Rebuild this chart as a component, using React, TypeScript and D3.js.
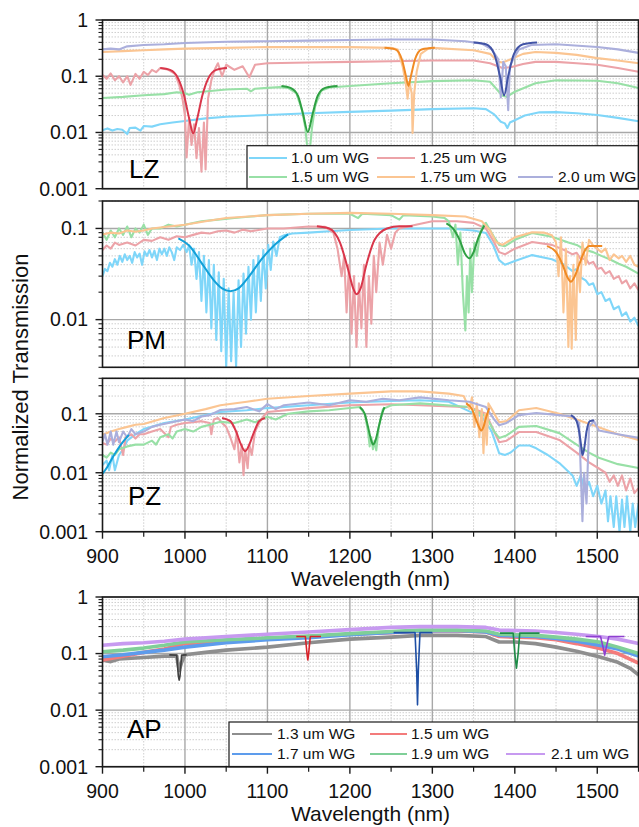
import React from "react";
import * as d3 from "d3";

type Pt = [number, number];

// ---------- shared axis / labels ----------
const xMajorTicks = [900, 1000, 1100, 1200, 1300, 1400, 1500];
const xMinorTicks = [950, 1050, 1150, 1250, 1350, 1450, 1550];
const panelNames = ["LZ", "PM", "PZ", "AP"];
const legendTopLabels = ["1.0 um WG", "1.25 um WG", "1.5 um WG", "1.75 um WG", "2.0 um WG"];
const legendAPLabels = ["1.3 um WG", "1.5 um WG", "1.7 um WG", "1.9 um WG", "2.1 um WG"];
const yTitle = "Normalized Transmission";
const xTitle = "Wavelength (nm)";

// ---------- LZ ----------
const lz10Raw: Pt[] = [[900,0.011],[906,0.0118],[912,0.0108],[918,0.0115],[924,0.0112],[930,0.0094],[933,0.012],[940,0.0122],[946,0.0108],[950,0.013],[960,0.0127],[970,0.014],[985,0.015],[1000,0.016],[1025,0.0178],[1050,0.019],[1100,0.0205],[1150,0.022],[1200,0.0232],[1250,0.0245],[1300,0.026],[1350,0.027],[1365,0.026],[1375,0.021],[1383,0.0155],[1388,0.0145],[1391,0.012],[1394,0.015],[1400,0.0165],[1412,0.02],[1430,0.0228],[1450,0.023],[1475,0.022],[1500,0.0205],[1525,0.0182],[1550,0.0158]];
const lz125Raw: Pt[] = [[900,0.105],[905,0.09],[910,0.112],[915,0.085],[920,0.1],[925,0.078],[930,0.1],[934,0.07],[940,0.11],[945,0.09],[950,0.12],[955,0.105],[960,0.13],[965,0.118],[970,0.14],[980,0.13],[988,0.11],[993,0.07],[997,0.04],[1000,0.02],[1002,0.0036],[1005,0.018],[1008,0.006],[1011,0.014],[1014,0.0035],[1017,0.012],[1020,0.002],[1023,0.015],[1025,0.0022],[1028,0.04],[1032,0.085],[1036,0.13],[1040,0.17],[1045,0.1],[1050,0.16],[1060,0.13],[1070,0.15],[1078,0.096],[1085,0.16],[1100,0.17],[1150,0.175],[1200,0.18],[1250,0.185],[1300,0.19],[1350,0.19],[1370,0.17],[1385,0.14],[1395,0.145],[1410,0.165],[1425,0.18],[1450,0.18],[1475,0.17],[1500,0.16],[1525,0.14],[1550,0.12]];
const lz125Fit: Pt[] = [[970,0.14],[982,0.13],[992,0.09],[999,0.045],[1005,0.018],[1010,0.0097],[1015,0.018],[1021,0.045],[1028,0.09],[1038,0.13],[1051,0.14]];
const lz15Raw: Pt[] = [[900,0.041],[925,0.043],[950,0.046],[975,0.048],[990,0.052],[1000,0.05],[1005,0.047],[1015,0.052],[1050,0.058],[1075,0.06],[1080,0.054],[1085,0.06],[1100,0.062],[1115,0.064],[1125,0.062],[1135,0.05],[1142,0.025],[1146,0.012],[1148,0.006],[1150,0.004],[1152,0.006],[1154,0.012],[1158,0.03],[1165,0.055],[1175,0.063],[1200,0.067],[1250,0.075],[1300,0.082],[1350,0.085],[1370,0.08],[1385,0.045],[1390,0.043],[1400,0.053],[1425,0.075],[1450,0.085],[1500,0.083],[1525,0.075],[1550,0.062]];
const lz15Fit: Pt[] = [[1117,0.067],[1128,0.062],[1137,0.045],[1143,0.022],[1149,0.0102],[1155,0.022],[1161,0.045],[1170,0.062],[1185,0.067]];
const lz175Raw: Pt[] = [[900,0.27],[925,0.28],[950,0.29],[975,0.3],[1000,0.31],[1050,0.32],[1100,0.33],[1150,0.33],[1200,0.33],[1250,0.32],[1258,0.3],[1264,0.15],[1268,0.07],[1270,0.04],[1272,0.08],[1275,0.05],[1276,0.0098],[1278,0.05],[1281,0.12],[1286,0.25],[1295,0.31],[1300,0.32],[1350,0.29],[1370,0.25],[1380,0.18],[1385,0.175],[1395,0.2],[1410,0.25],[1425,0.27],[1450,0.26],[1475,0.24],[1500,0.21],[1525,0.19],[1550,0.17]];
const lz175Fit: Pt[] = [[1242,0.32],[1255,0.3],[1263,0.2],[1268,0.1],[1271,0.067],[1274,0.1],[1279,0.2],[1287,0.3],[1303,0.32]];
const lz20Raw: Pt[] = [[900,0.3],[910,0.31],[920,0.3],[930,0.34],[950,0.36],[975,0.37],[1000,0.39],[1050,0.41],[1100,0.42],[1150,0.43],[1200,0.44],[1250,0.45],[1300,0.45],[1340,0.42],[1360,0.38],[1372,0.3],[1380,0.2],[1383,0.042],[1386,0.18],[1389,0.15],[1392,0.025],[1394,0.15],[1398,0.2],[1405,0.3],[1420,0.36],[1450,0.37],[1500,0.33],[1525,0.3],[1550,0.26]];
const lz20Fit: Pt[] = [[1350,0.4],[1365,0.37],[1375,0.25],[1382,0.1],[1387,0.046],[1392,0.1],[1399,0.25],[1410,0.37],[1427,0.4]];

// ---------- PM ----------
const pm10Raw: Pt[] = [[900,0.03],[903,0.036],[906,0.034],[909,0.042],[912,0.038],[915,0.046],[918,0.04],[921,0.05],[924,0.043],[927,0.052],[930,0.045],[933,0.05],[936,0.042],[939,0.055],[942,0.048],[945,0.053],[948,0.04],[951,0.056],[954,0.05],[957,0.058],[960,0.048],[963,0.057],[966,0.045],[969,0.06],[972,0.052],[975,0.06],[978,0.05],[981,0.062],[984,0.055],[987,0.045],[990,0.062],[994,0.058],[998,0.066],[1002,0.055],[1005,0.065],[1008,0.04],[1011,0.06],[1014,0.028],[1017,0.055],[1020,0.016],[1023,0.05],[1026,0.012],[1029,0.045],[1032,0.008],[1035,0.04],[1038,0.006],[1041,0.033],[1044,0.0045],[1047,0.028],[1050,0.003],[1053,0.022],[1056,0.0035],[1059,0.02],[1062,0.003],[1065,0.027],[1068,0.005],[1071,0.032],[1074,0.007],[1077,0.038],[1080,0.01],[1083,0.045],[1086,0.012],[1089,0.05],[1092,0.016],[1095,0.058],[1098,0.022],[1101,0.066],[1104,0.035],[1107,0.072],[1111,0.05],[1115,0.08],[1120,0.084],[1130,0.088],[1150,0.09],[1175,0.093],[1200,0.096],[1250,0.1],[1285,0.1],[1320,0.1],[1350,0.095],[1365,0.089],[1374,0.065],[1381,0.045],[1388,0.04],[1400,0.044],[1421,0.051],[1445,0.046],[1460,0.04],[1470,0.034],[1475,0.036],[1480,0.029],[1486,0.027],[1490,0.024],[1495,0.025],[1500,0.019],[1505,0.02],[1510,0.016],[1515,0.017],[1520,0.013],[1526,0.014],[1530,0.011],[1535,0.012],[1540,0.0095],[1545,0.0105],[1550,0.0085]];
const pm10Fit: Pt[] = [[992,0.078],[1005,0.065],[1020,0.042],[1035,0.027],[1045,0.022],[1055,0.0205],[1065,0.022],[1078,0.03],[1092,0.045],[1108,0.065],[1125,0.086]];
const pm125Raw: Pt[] = [[900,0.058],[905,0.065],[910,0.06],[915,0.07],[920,0.066],[930,0.07],[940,0.065],[950,0.075],[960,0.073],[970,0.08],[980,0.075],[990,0.082],[1000,0.08],[1010,0.085],[1020,0.09],[1030,0.088],[1040,0.093],[1050,0.095],[1060,0.09],[1070,0.097],[1080,0.093],[1100,0.1],[1120,0.1],[1150,0.105],[1170,0.104],[1180,0.09],[1185,0.06],[1190,0.03],[1193,0.05],[1196,0.012],[1199,0.04],[1202,0.007],[1205,0.03],[1208,0.005],[1211,0.025],[1214,0.008],[1217,0.04],[1220,0.005],[1223,0.03],[1226,0.009],[1229,0.05],[1232,0.02],[1236,0.07],[1240,0.04],[1245,0.085],[1250,0.06],[1255,0.09],[1260,0.1],[1280,0.11],[1300,0.12],[1330,0.12],[1350,0.115],[1365,0.1],[1375,0.07],[1381,0.055],[1388,0.052],[1400,0.06],[1421,0.071],[1445,0.066],[1460,0.058],[1470,0.052],[1475,0.054],[1480,0.046],[1486,0.047],[1490,0.041],[1495,0.043],[1500,0.036],[1505,0.037],[1510,0.032],[1515,0.034],[1520,0.028],[1526,0.03],[1530,0.025],[1535,0.027],[1540,0.022],[1545,0.025],[1550,0.021]];
const pm125Fit: Pt[] = [[1160,0.106],[1175,0.1],[1188,0.07],[1198,0.035],[1204,0.022],[1208,0.019],[1213,0.022],[1220,0.04],[1230,0.075],[1245,0.1],[1260,0.106],[1276,0.106]];
const pm15Raw: Pt[] = [[900,0.09],[905,0.075],[910,0.095],[915,0.08],[920,0.1],[925,0.085],[930,0.105],[935,0.08],[940,0.1],[945,0.09],[950,0.11],[955,0.085],[960,0.1],[970,0.1],[980,0.11],[990,0.105],[1000,0.11],[1020,0.12],[1040,0.125],[1060,0.13],[1080,0.135],[1100,0.14],[1150,0.145],[1200,0.145],[1210,0.13],[1215,0.145],[1250,0.14],[1260,0.125],[1265,0.14],[1300,0.135],[1315,0.13],[1320,0.12],[1325,0.08],[1328,0.11],[1331,0.04],[1334,0.09],[1337,0.02],[1340,0.0076],[1342,0.03],[1344,0.012],[1346,0.06],[1348,0.02],[1351,0.07],[1354,0.05],[1358,0.09],[1362,0.11],[1365,0.115],[1375,0.08],[1381,0.066],[1388,0.064],[1400,0.075],[1421,0.089],[1445,0.081],[1465,0.07],[1475,0.066],[1486,0.058],[1495,0.055],[1505,0.05],[1515,0.046],[1526,0.041],[1535,0.038],[1550,0.032]];
const pm15Fit: Pt[] = [[1317,0.114],[1325,0.1],[1333,0.075],[1340,0.052],[1345,0.047],[1350,0.055],[1356,0.08],[1363,0.108]];
const pm175Raw: Pt[] = [[900,0.086],[910,0.09],[920,0.088],[930,0.095],[940,0.092],[950,0.095],[960,0.1],[980,0.105],[1000,0.11],[1025,0.12],[1050,0.13],[1100,0.14],[1150,0.145],[1200,0.148],[1250,0.145],[1300,0.14],[1340,0.135],[1360,0.12],[1370,0.095],[1377,0.071],[1385,0.066],[1400,0.08],[1421,0.091],[1435,0.09],[1445,0.084],[1450,0.07],[1453,0.03],[1456,0.08],[1459,0.012],[1462,0.06],[1465,0.005],[1467,0.03],[1469,0.0048],[1471,0.04],[1474,0.006],[1476,0.05],[1479,0.02],[1482,0.07],[1486,0.04],[1490,0.075],[1495,0.065],[1505,0.055],[1510,0.06],[1515,0.045],[1520,0.052],[1526,0.047],[1530,0.05],[1535,0.043],[1540,0.05],[1545,0.04],[1550,0.038]];
const pm175Fit: Pt[] = [[1439,0.064],[1450,0.055],[1458,0.04],[1464,0.029],[1468,0.026],[1472,0.029],[1478,0.04],[1484,0.055],[1490,0.064],[1506,0.064]];

// ---------- PZ ----------
const pz10Raw: Pt[] = [[900,0.0135],[905,0.016],[908,0.011],[912,0.02],[915,0.011],[920,0.02],[925,0.025],[930,0.035],[940,0.045],[950,0.055],[975,0.07],[1000,0.08],[1025,0.095],[1043,0.107],[1075,0.115],[1100,0.125],[1150,0.14],[1200,0.155],[1250,0.165],[1285,0.17],[1320,0.16],[1345,0.11],[1360,0.09],[1372,0.05],[1381,0.0215],[1388,0.02],[1395,0.022],[1405,0.029],[1418,0.029],[1426,0.026],[1440,0.02],[1454,0.0146],[1470,0.009],[1475,0.006],[1480,0.009],[1485,0.005],[1490,0.007],[1495,0.004],[1500,0.006],[1505,0.003],[1510,0.005],[1513,0.0015],[1516,0.004],[1520,0.0012],[1523,0.004],[1527,0.001],[1530,0.0035],[1533,0.0012],[1536,0.004],[1540,0.001],[1543,0.003],[1546,0.0012],[1550,0.003]];
const pz10Fit: Pt[] = [[900,0.0096],[905,0.012],[910,0.016],[915,0.021],[920,0.027],[926,0.035],[932,0.044]];
const pz125Raw: Pt[] = [[900,0.032],[905,0.03],[910,0.038],[915,0.034],[920,0.04],[925,0.02],[928,0.04],[935,0.045],[940,0.038],[945,0.045],[950,0.045],[960,0.05],[970,0.055],[980,0.04],[983,0.06],[990,0.065],[1000,0.07],[1010,0.072],[1020,0.075],[1030,0.07],[1032,0.045],[1035,0.08],[1040,0.085],[1045,0.07],[1050,0.06],[1055,0.04],[1060,0.025],[1063,0.05],[1066,0.015],[1069,0.03],[1071,0.0091],[1073,0.025],[1076,0.012],[1078,0.03],[1081,0.02],[1085,0.05],[1090,0.07],[1095,0.09],[1100,0.107],[1150,0.125],[1200,0.14],[1250,0.145],[1285,0.14],[1345,0.13],[1365,0.1],[1375,0.05],[1381,0.033],[1390,0.035],[1405,0.049],[1426,0.049],[1454,0.036],[1475,0.022],[1490,0.015],[1502,0.0118],[1510,0.01],[1515,0.007],[1520,0.009],[1525,0.006],[1530,0.009],[1535,0.005],[1540,0.008],[1545,0.0045],[1550,0.0055]];
const pz125Fit: Pt[] = [[1045,0.085],[1055,0.075],[1062,0.05],[1068,0.03],[1073,0.0232],[1078,0.03],[1084,0.05],[1090,0.075],[1097,0.085]];
const pz15Raw: Pt[] = [[900,0.02],[905,0.018],[910,0.022],[915,0.02],[920,0.025],[930,0.028],[940,0.03],[950,0.03],[960,0.035],[965,0.03],[970,0.04],[980,0.045],[985,0.038],[990,0.05],[1000,0.055],[1010,0.05],[1020,0.06],[1030,0.065],[1043,0.073],[1060,0.07],[1075,0.08],[1085,0.072],[1100,0.089],[1110,0.08],[1125,0.1],[1150,0.11],[1175,0.115],[1200,0.125],[1212,0.13],[1218,0.1],[1222,0.05],[1224,0.028],[1226,0.04],[1228,0.025],[1230,0.035],[1232,0.024],[1235,0.06],[1240,0.12],[1250,0.14],[1285,0.15],[1345,0.13],[1365,0.09],[1375,0.05],[1381,0.039],[1390,0.043],[1405,0.06],[1426,0.062],[1454,0.047],[1475,0.03],[1490,0.022],[1502,0.018],[1525,0.014],[1550,0.012]];
const pz15Fit: Pt[] = [[1212,0.13],[1218,0.1],[1222,0.06],[1226,0.035],[1228,0.03],[1231,0.035],[1235,0.06],[1239,0.1],[1242,0.13]];
const pz175Raw: Pt[] = [[900,0.044],[910,0.05],[920,0.055],[930,0.06],[940,0.065],[950,0.067],[975,0.085],[1000,0.1],[1025,0.12],[1043,0.14],[1075,0.16],[1100,0.18],[1150,0.2],[1200,0.22],[1250,0.24],[1285,0.24],[1320,0.22],[1338,0.2],[1345,0.12],[1348,0.19],[1351,0.06],[1354,0.15],[1357,0.04],[1360,0.12],[1362,0.0215],[1364,0.1],[1366,0.03],[1368,0.15],[1372,0.12],[1381,0.072],[1390,0.075],[1405,0.115],[1426,0.125],[1454,0.1],[1475,0.08],[1502,0.059],[1525,0.045],[1550,0.036]];
const pz175Fit: Pt[] = [[1341,0.15],[1348,0.12],[1353,0.08],[1357,0.058],[1359,0.052],[1362,0.06],[1365,0.085],[1369,0.125]];
const pz20Raw: Pt[] = [[900,0.034],[903,0.045],[906,0.03],[910,0.05],[913,0.03],[917,0.05],[920,0.033],[925,0.05],[930,0.04],[935,0.055],[940,0.045],[950,0.05],[960,0.06],[970,0.065],[980,0.07],[990,0.075],[1000,0.08],[1010,0.075],[1020,0.09],[1030,0.095],[1043,0.116],[1060,0.12],[1075,0.13],[1090,0.11],[1100,0.146],[1110,0.12],[1120,0.14],[1150,0.155],[1175,0.14],[1200,0.17],[1220,0.16],[1240,0.18],[1260,0.17],[1285,0.19],[1320,0.17],[1345,0.16],[1365,0.13],[1375,0.08],[1381,0.064],[1390,0.07],[1405,0.095],[1426,0.103],[1454,0.095],[1470,0.09],[1478,0.07],[1480,0.01],[1482,0.0015],[1484,0.01],[1487,0.003],[1490,0.06],[1496,0.075],[1502,0.052],[1525,0.045],[1550,0.039]];
const pz20Fit: Pt[] = [[1468,0.095],[1474,0.08],[1478,0.05],[1481,0.025],[1482,0.02],[1484,0.025],[1487,0.05],[1491,0.075],[1496,0.078]];

// ---------- AP ----------
const ap13Raw: Pt[] = [[900,0.077],[910,0.072],[920,0.08],[930,0.082],[950,0.085],[975,0.09],[990,0.09],[993,0.05],[996,0.07],[1000,0.095],[1025,0.105],[1050,0.115],[1100,0.13],[1150,0.155],[1200,0.18],[1250,0.195],[1285,0.21],[1330,0.21],[1365,0.2],[1381,0.16],[1400,0.16],[1425,0.15],[1450,0.13],[1475,0.11],[1502,0.088],[1525,0.07],[1540,0.055],[1550,0.042]];
const ap13Fit: Pt[] = [[981,0.095],[990,0.094],[992,0.04],[993,0.034],[994,0.04],[996,0.094],[1002,0.095]];
const ap15Raw: Pt[] = [[900,0.077],[925,0.09],[950,0.105],[975,0.12],[1000,0.15],[1050,0.165],[1100,0.185],[1150,0.2],[1200,0.22],[1250,0.235],[1285,0.25],[1330,0.25],[1365,0.24],[1381,0.2],[1425,0.19],[1450,0.175],[1475,0.15],[1502,0.124],[1525,0.1],[1550,0.068]];
const ap15Fit: Pt[] = [[1135,0.2],[1146,0.2],[1148,0.1],[1149,0.077],[1150,0.1],[1152,0.2],[1165,0.2]];
const ap17Raw: Pt[] = [[900,0.088],[925,0.095],[950,0.105],[975,0.115],[1000,0.13],[1050,0.155],[1100,0.175],[1150,0.19],[1200,0.215],[1250,0.235],[1285,0.25],[1330,0.255],[1365,0.24],[1381,0.21],[1425,0.2],[1450,0.185],[1475,0.165],[1502,0.14],[1525,0.12],[1550,0.09]];
const ap17Fit: Pt[] = [[1253,0.235],[1279,0.235],[1281,0.05],[1282,0.0124],[1283,0.05],[1285,0.235],[1300,0.235]];
const ap19Raw: Pt[] = [[900,0.108],[925,0.115],[950,0.125],[975,0.14],[1000,0.16],[1050,0.175],[1100,0.19],[1150,0.205],[1200,0.225],[1250,0.245],[1285,0.26],[1330,0.26],[1365,0.25],[1381,0.22],[1425,0.21],[1450,0.195],[1475,0.18],[1502,0.16],[1525,0.13],[1550,0.1]];
const ap19Fit: Pt[] = [[1382,0.23],[1398,0.23],[1400,0.1],[1402,0.055],[1404,0.1],[1406,0.23],[1430,0.23]];
const ap21Raw: Pt[] = [[900,0.14],[925,0.15],[950,0.155],[975,0.165],[1000,0.18],[1050,0.2],[1100,0.22],[1150,0.24],[1200,0.265],[1250,0.29],[1285,0.3],[1330,0.3],[1365,0.29],[1381,0.26],[1425,0.25],[1450,0.235],[1475,0.22],[1502,0.2],[1525,0.18],[1550,0.15]];
const ap21Fit: Pt[] = [[1486,0.2],[1504,0.2],[1507,0.13],[1509,0.094],[1511,0.13],[1514,0.2],[1533,0.2]];

// ---------- styles ----------
const FONT = "'Liberation Sans', Arial, Helvetica, sans-serif";
const topRawColors = ["#7fd6f9", "#eca3a8", "#98e0a6", "#fbc592", "#abafdc"];
const topFitColors = ["#12a0d8", "#d9364a", "#2fa043", "#f08a24", "#4254a6"];
const apRawColors = ["#8e8e8e", "#f37b7b", "#5d9cec", "#7fcf98", "#c79af0"];
const apFitColors = ["#404040", "#d8232a", "#1e4fa5", "#1e8c48", "#8e3fd0"];

const X0 = 102.5;
const X1 = 638.5;
const x = d3.scaleLinear().domain([900, 1550]).range([X0, X1]);

type Series = { data: Pt[]; color: string; width: number; curve?: boolean };

interface PanelProps {
  id: string;
  top: number;
  bottom: number;
  domain: [number, number];
  raws: Series[];
  fits: Series[];
  label: string;
  labelX: number;
  labelY: number;
  xAxis: boolean;
  children?: React.ReactNode;
}

function fmt(v: number) {
  if (v >= 1) return "1";
  return String(+v.toPrecision(1));
}

function Panel(p: PanelProps) {
  const y = d3.scaleLog().domain(p.domain).range([p.bottom, p.top]);
  const lo = Math.floor(Math.log10(p.domain[0]) + 1e-9);
  const hi = Math.ceil(Math.log10(p.domain[1]) - 1e-9);
  const major: number[] = [];
  const minor: number[] = [];
  for (let k = lo; k <= hi; k++) {
    for (let m = 1; m <= 9; m++) {
      const v = +(m * Math.pow(10, k)).toPrecision(3);
      if (v < p.domain[0] * 0.999 || v > p.domain[1] * 1.001) continue;
      if (m === 1) major.push(v);
      else minor.push(v);
    }
  }
  const mkLine = (curve: boolean) =>
    d3
      .line<Pt>()
      .x((d) => x(d[0]))
      .y((d) => y(d[1]))
      .curve(curve ? d3.curveMonotoneX : d3.curveLinear);
  const w = X1 - X0;
  return (
    <g>
      <defs>
        <clipPath id={p.id}>
          <rect x={X0} y={p.top} width={w} height={p.bottom - p.top} />
        </clipPath>
      </defs>
      <rect x={X0} y={p.top} width={w} height={p.bottom - p.top} fill="#fff" />
      {minor.map((v) => (
        <line key={"hm" + v} x1={X0} x2={X1} y1={y(v)} y2={y(v)} stroke="#c8c8c8" strokeWidth={0.9} strokeDasharray="1.5,1.5" />
      ))}
      {xMinorTicks.map((v) => (
        <line key={"vm" + v} x1={x(v)} x2={x(v)} y1={p.top} y2={p.bottom} stroke="#c8c8c8" strokeWidth={0.9} strokeDasharray="1.5,1.5" />
      ))}
      {major.map((v) => (
        <line key={"hM" + v} x1={X0} x2={X1} y1={y(v)} y2={y(v)} stroke="#a8a8a8" strokeWidth={1.4} />
      ))}
      {xMajorTicks.slice(1).map((v) => (
        <line key={"vM" + v} x1={x(v)} x2={x(v)} y1={p.top} y2={p.bottom} stroke="#a8a8a8" strokeWidth={1.4} />
      ))}
      <g clipPath={`url(#${p.id})`}>
        {p.raws.map((s, i) => (
          <path key={"r" + i} d={mkLine(false)(s.data) || ""} fill="none" stroke={s.color} strokeWidth={s.width} strokeLinejoin="round" />
        ))}
        {p.fits.map((s, i) => (
          <path key={"f" + i} d={mkLine(!!s.curve)(s.data) || ""} fill="none" stroke={s.color} strokeWidth={s.width} strokeLinejoin="round" />
        ))}
      </g>
      {p.children}
      <rect x={X0} y={p.top} width={w} height={p.bottom - p.top} fill="none" stroke="#1a1a1a" strokeWidth={1.6} />
      {major.map((v) => (
        <g key={"yt" + v}>
          <line x1={X0 - 7} x2={X0} y1={y(v)} y2={y(v)} stroke="#1a1a1a" strokeWidth={1.4} />
          <text x={88} y={y(v)} dy="0.35em" textAnchor="end" fontFamily={FONT} fontSize={19.5} fill="#111">
            {fmt(v)}
          </text>
        </g>
      ))}
      {minor.map((v) => (
        <line key={"ytm" + v} x1={X0 - 4} x2={X0} y1={y(v)} y2={y(v)} stroke="#1a1a1a" strokeWidth={1.1} />
      ))}
      {p.xAxis && (
        <g>
          {xMajorTicks.map((v) => (
            <g key={"xt" + v}>
              <line x1={x(v)} x2={x(v)} y1={p.bottom} y2={p.bottom + 7} stroke="#1a1a1a" strokeWidth={1.4} />
              <text x={x(v)} y={p.bottom + 24} dy="0.35em" textAnchor="middle" fontFamily={FONT} fontSize={19.5} fill="#111">
                {v}
              </text>
            </g>
          ))}
          {xMinorTicks.map((v) => (
            <line key={"xtm" + v} x1={x(v)} x2={x(v)} y1={p.bottom} y2={p.bottom + 5} stroke="#1a1a1a" strokeWidth={1.2} />
          ))}
          <text x={(X0 + X1) / 2} y={p.bottom + 47} dy="0.35em" textAnchor="middle" fontFamily={FONT} fontSize={21} fill="#111">
            {xTitle}
          </text>
        </g>
      )}
      <text x={p.labelX} y={p.labelY} fontFamily={FONT} fontSize={26} fill="#000">
        {p.label}
      </text>
    </g>
  );
}

function LegendItem({ x1, x2, tx, y, color, label }: { x1: number; x2: number; tx: number; y: number; color: string; label: string }) {
  return (
    <g>
      <line x1={x1} x2={x2} y1={y} y2={y} stroke={color} strokeWidth={2} />
      <text x={tx} y={y} dy="0.35em" fontFamily={FONT} fontSize={15.5} fill="#111">
        {label}
      </text>
    </g>
  );
}

const raws = (arrs: Pt[][], colors: string[], width: number): Series[] => arrs.map((d, i) => ({ data: d, color: colors[i], width }));
const fits = (arrs: Pt[][], colors: string[], width: number, curve: boolean): Series[] =>
  arrs.map((d, i) => ({ data: d, color: colors[i], width, curve }));

export default function App() {
  const lzFitColors = [topFitColors[1], topFitColors[2], topFitColors[3], topFitColors[4]];
  const pmFitColors = [topFitColors[0], topFitColors[1], topFitColors[2], topFitColors[3]];
  const pzFitColors = [topFitColors[0], topFitColors[1], topFitColors[2], topFitColors[3], topFitColors[4]];
  return (
    <svg width={639} height={827} style={{ position: "absolute", left: 0, top: 0, background: "#fff" }}>
      <rect x={0} y={0} width={639} height={827} fill="#fff" />
      <Panel
        id="c1"
        top={20}
        bottom={188.7}
        domain={[0.001, 1]}
        raws={raws([lz10Raw, lz125Raw, lz15Raw, lz175Raw, lz20Raw], topRawColors, 2.1)}
        fits={fits([lz125Fit, lz15Fit, lz175Fit, lz20Fit], lzFitColors, 2, true)}
        label={panelNames[0]}
        labelX={129}
        labelY={178}
        xAxis={false}
      >
        <rect x={247} y={145.7} width={X1 - 247} height={188.7 - 145.7} fill="#fff" stroke="#1a1a1a" strokeWidth={1.2} />
        <LegendItem x1={249} x2={287} tx={291} y={158} color={topRawColors[0]} label={legendTopLabels[0]} />
        <LegendItem x1={377} x2={415} tx={420} y={158} color={topRawColors[1]} label={legendTopLabels[1]} />
        <LegendItem x1={249} x2={287} tx={291} y={177} color={topRawColors[2]} label={legendTopLabels[2]} />
        <LegendItem x1={377} x2={415} tx={420} y={177} color={topRawColors[3]} label={legendTopLabels[3]} />
        <LegendItem x1={518} x2={553} tx={558} y={177} color={topRawColors[4]} label={legendTopLabels[4]} />
      </Panel>
      <Panel
        id="c2"
        top={201}
        bottom={367.3}
        domain={[0.003, 0.2]}
        raws={raws([pm10Raw, pm125Raw, pm15Raw, pm175Raw], topRawColors, 2.1)}
        fits={fits([pm10Fit, pm125Fit, pm15Fit, pm175Fit], pmFitColors, 2, true)}
        label={panelNames[1]}
        labelX={127}
        labelY={349}
        xAxis={false}
      />
      <Panel
        id="c3"
        top={378.3}
        bottom={531.7}
        domain={[0.001, 0.4]}
        raws={raws([pz10Raw, pz125Raw, pz15Raw, pz175Raw, pz20Raw], topRawColors, 2.1)}
        fits={fits([pz10Fit, pz125Fit, pz15Fit, pz175Fit, pz20Fit], pzFitColors, 2, true)}
        label={panelNames[2]}
        labelX={128}
        labelY={505}
        xAxis={true}
      />
      <Panel
        id="c4"
        top={597}
        bottom={766.7}
        domain={[0.001, 1]}
        raws={raws([ap13Raw, ap15Raw, ap17Raw, ap19Raw, ap21Raw], apRawColors, 3.6)}
        fits={fits([ap13Fit, ap15Fit, ap17Fit, ap19Fit, ap21Fit], apFitColors, 1.6, false)}
        label={panelNames[3]}
        labelX={127}
        labelY={738}
        xAxis={true}
      >
        <rect x={229} y={722} width={X1 - 229} height={766.7 - 722} fill="#fff" stroke="#1a1a1a" strokeWidth={1.2} />
        <LegendItem x1={232} x2={272} tx={277} y={734} color={apRawColors[0]} label={legendAPLabels[0]} />
        <LegendItem x1={370} x2={407} tx={411} y={734} color={apRawColors[1]} label={legendAPLabels[1]} />
        <LegendItem x1={232} x2={272} tx={277} y={754} color={apRawColors[2]} label={legendAPLabels[2]} />
        <LegendItem x1={370} x2={407} tx={411} y={754} color={apRawColors[3]} label={legendAPLabels[3]} />
        <LegendItem x1={506} x2={545} tx={551} y={754} color={apRawColors[4]} label={legendAPLabels[4]} />
      </Panel>
      <text transform={`translate(28, 377) rotate(-90)`} textAnchor="middle" fontFamily={FONT} fontSize={22} fill="#111">
        {yTitle}
      </text>
    </svg>
  );
}
